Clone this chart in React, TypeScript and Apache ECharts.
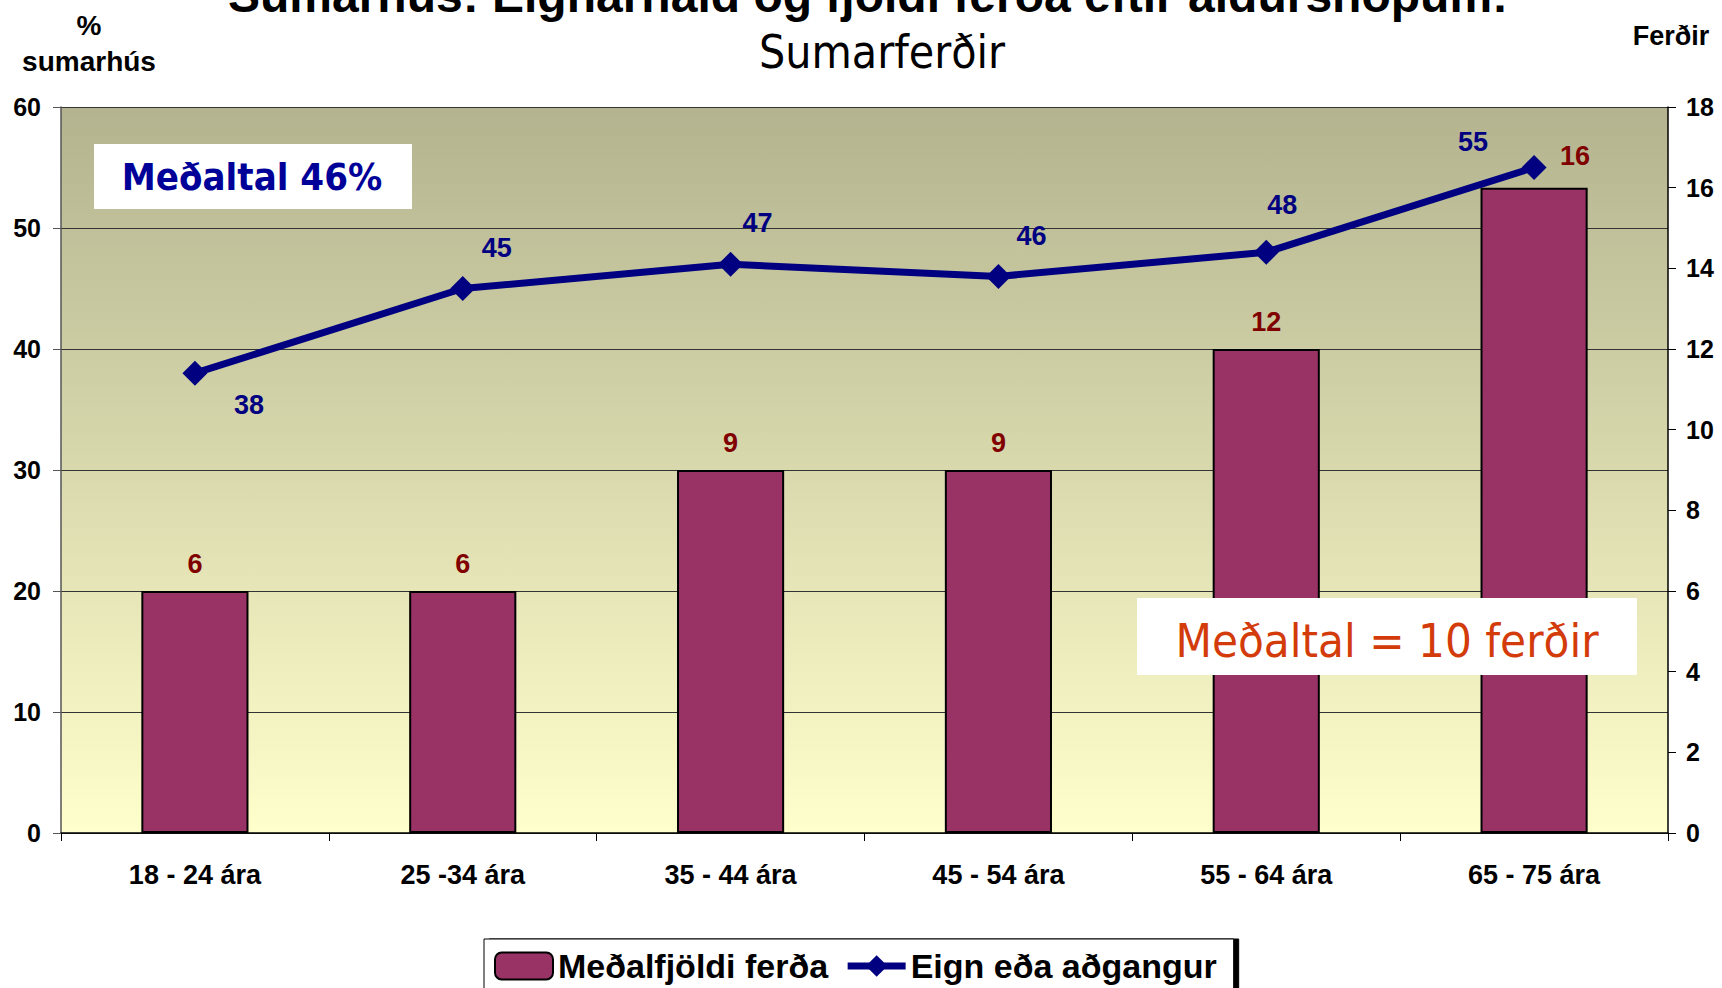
import React, { useEffect, useRef } from 'react';
import * as echarts from 'echarts';

const categories = ['18 - 24 ára', '25 -34 ára', '35 - 44 ára', '45 - 54 ára', '55 - 64 ára', '65 - 75 ára'];
const tripCounts = [6, 6, 9, 9, 12, 16];
const ownershipPct = [38, 45, 47, 46, 48, 55];

const barName = 'Meðalfjöldi ferða';
const lineName = 'Eign eða aðgangur';
const titleText = 'Sumarhús: Eignarhald og fjöldi ferða eftir aldurshópum:';
const subtitleText = 'Sumarferðir';
const leftAxisName = '%\nsumarhús';
const rightAxisName = 'Ferðir';
const avgOwnText = 'Meðaltal 46%';
const avgTripsText = 'Meðaltal = 10 ferðir';

const lineLabelOffsets = [[54, 32], [34, -41], [27, -41], [33, -40], [16, -47], [-61, -26]];
const barLabelOffsets = [[0, 0], [0, 0], [0, 0], [0, 0], [0, 0], [41, -4]];

const ARIAL = '"Liberation Sans", Arial, sans-serif';
const TAHOMA = '"DejaVu Sans Condensed", "DejaVu Sans", sans-serif';

function txt(text: string, x: number, y: number, font: string, fill: string) {
  return {
    type: 'text',
    z: 100,
    x,
    y,
    style: {
      text,
      font,
      fill,
      align: 'center',
      verticalAlign: 'middle',
      textAlign: 'center',
      textVerticalAlign: 'middle',
    },
  };
}

export default function App() {
  const ref = useRef<HTMLDivElement>(null);
  useEffect(() => {
    if (!ref.current) return;
    const chart = echarts.init(ref.current, null, { renderer: 'svg' });
    const option: any = {
      animation: false,
      backgroundColor: '#ffffff',
      grid: {
        left: 61,
        right: 54,
        top: 107,
        bottom: 155,
        containLabel: false,
        outerBoundsMode: 'none',
        show: true,
        borderWidth: 0,
        backgroundColor: new echarts.graphic.LinearGradient(0, 0, 0, 1, [
          { offset: 0, color: '#b3b38f' },
          { offset: 1, color: '#ffffcc' },
        ]),
      },
      legend: {
        left: 484,
        top: 939,
        orient: 'horizontal',
        itemWidth: 58,
        itemHeight: 27,
        itemGap: 16,
        padding: [10, 17, 10, 10],
        borderColor: '#000',
        borderWidth: 1,
        backgroundColor: '#fff',
        shadowColor: '#000',
        shadowBlur: 0,
        shadowOffsetX: 5,
        shadowOffsetY: 0,
        textStyle: { fontFamily: ARIAL, fontWeight: 'bold', fontSize: 34, color: '#000' },
        data: [
          { name: barName },
          { name: lineName, lineStyle: { width: 7, color: '#000080' } },
        ],
      },
      xAxis: {
        type: 'category',
        data: categories,
        axisLine: { lineStyle: { color: '#000', width: 1.5 } },
        axisTick: { show: true, length: 8, lineStyle: { color: '#000' } },
        axisLabel: { fontFamily: ARIAL, fontWeight: 'bold', fontSize: 27, color: '#000', margin: 28 },
      },
      yAxis: [
        {
          type: 'value',
          min: 0,
          max: 60,
          interval: 10,
          position: 'left',
          name: leftAxisName,
          nameLocation: 'end',
          nameGap: 28,
          nameTextStyle: {
            fontFamily: ARIAL,
            fontWeight: 'bold',
            fontSize: 28,
            color: '#000',
            lineHeight: 36,
            padding: [0, 0, 0, 56],
          },
          axisLine: { show: true, lineStyle: { color: '#555', width: 1.5 } },
          axisTick: { show: true, length: 8, lineStyle: { color: '#555' } },
          splitLine: { show: true, lineStyle: { color: '#333', width: 1 } },
          axisLabel: { fontFamily: ARIAL, fontWeight: 'bold', fontSize: 25, color: '#000', margin: 20 },
        },
        {
          type: 'value',
          min: 0,
          max: 18,
          interval: 2,
          position: 'right',
          name: rightAxisName,
          nameLocation: 'end',
          nameGap: 58,
          nameTextStyle: { fontFamily: ARIAL, fontWeight: 'bold', fontSize: 27, color: '#000', padding: [0, 0, 0, 6] },
          axisLine: { show: true, lineStyle: { color: '#000', width: 1.5 } },
          axisTick: { show: true, length: 8, lineStyle: { color: '#000' } },
          splitLine: { show: false },
          axisLabel: { fontFamily: ARIAL, fontWeight: 'bold', fontSize: 25, color: '#000', margin: 18 },
        },
      ],
      series: [
        {
          name: barName,
          type: 'bar',
          yAxisIndex: 1,
          barWidth: '40%',
          itemStyle: { color: '#993366', borderColor: '#000', borderWidth: 2 },
          label: {
            show: true,
            position: 'top',
            distance: 14,
            fontFamily: ARIAL,
            fontWeight: 'bold',
            fontSize: 27,
            color: '#800000',
          },
          data: tripCounts.map((v, i) => ({ value: v, label: { offset: barLabelOffsets[i] } })),
        },
        {
          name: lineName,
          type: 'line',
          yAxisIndex: 0,
          symbol: 'diamond',
          symbolSize: 25,
          lineStyle: { color: '#000080', width: 7 },
          itemStyle: { color: '#000080' },
          label: {
            show: true,
            position: 'inside',
            fontFamily: ARIAL,
            fontWeight: 'bold',
            fontSize: 27,
            color: '#000080',
          },
          z: 5,
          data: ownershipPct.map((v, i) => ({ value: v, label: { offset: lineLabelOffsets[i] } })),
        },
      ],
      graphic: [
        txt(titleText, 868, -5, `bold 48px ${ARIAL}`, '#000'),
        txt(subtitleText, 882, 52, `46px ${TAHOMA}`, '#000'),
        {
          type: 'rect',
          z: 100,
          shape: { x: 94, y: 144, width: 318, height: 65 },
          style: { fill: '#fff' },
        },
        txt(avgOwnText, 252, 177, `bold 38px ${TAHOMA}`, '#000099'),
        {
          type: 'rect',
          z: 100,
          shape: { x: 1137, y: 598, width: 500, height: 77 },
          style: { fill: '#fff' },
        },
        txt(avgTripsText, 1387, 640, `47px ${TAHOMA}`, '#d33c0a'),
      ],
    };
    chart.setOption(option);
    return () => chart.dispose();
  }, []);
  return <div ref={ref} style={{ position: 'fixed', left: 0, top: 0, width: 1722, height: 988 }} />;
}
